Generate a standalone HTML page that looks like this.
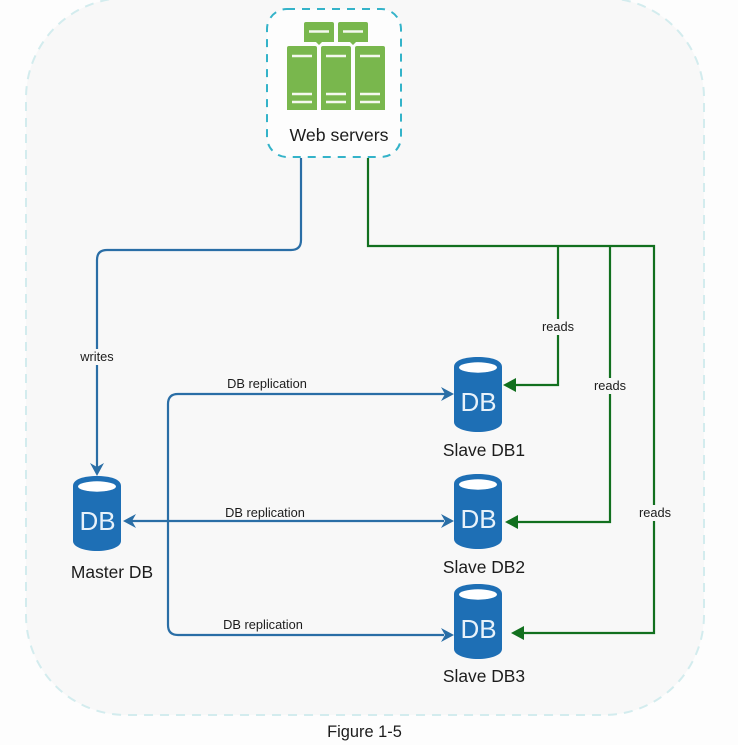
<!DOCTYPE html>
<html><head><meta charset="utf-8"><style>
html,body{margin:0;padding:0;background:#fdfdfd}
svg{display:block;filter:blur(0.35px)}
text{font-family:"Liberation Sans",sans-serif;fill:#1c1c1c}
</style></head><body>
<svg width="738" height="745" viewBox="0 0 738 745" xmlns="http://www.w3.org/2000/svg">
<defs>
<g id="db">
<path d="M0 10C0 3 11 0 24 0S48 3 48 10V65C48 71 37 75 24 75S0 71 0 65Z" fill="#1e6fb5"/>
<ellipse cx="24" cy="10.500" rx="19" ry="5.200" fill="#fff"/>
<text x="24.500" y="54" font-size="26" text-anchor="middle" style="fill:#e8f2fa">DB</text>
</g>
</defs>
<rect width="738" height="745" fill="#fdfdfd"/>
<rect x="26" y="-2" width="678" height="717" rx="100" fill="#f8f8f8" stroke="#d3ecee" stroke-width="2" stroke-dasharray="9 7"/>
<rect x="267" y="9" width="134" height="148" rx="20" fill="#fdfdfd" stroke="#34b3c9" stroke-width="2" stroke-dasharray="8 7"/>
<g fill="#79b74d">
<path d="M306 22H332Q334 22 334 24V42H322L319 45L316 42H304V24Q304 22 306 22Z"/>
<path d="M340 22H366Q368 22 368 24V42H356L353 45L350 42H338V24Q338 22 340 22Z"/>
<path d="M289 46H315Q317 46 317 48V110H287V48Q287 46 289 46Z"/>
<path d="M323 46H349Q351 46 351 48V110H321V48Q321 46 323 46Z"/>
<path d="M357 46H383Q385 46 385 48V110H355V48Q355 46 357 46Z"/>
</g>
<g stroke="#f4f8ee" stroke-width="2.500">
<path d="M309 31.500H329M343 31.500H363"/>
<path d="M292 56H312M326 56H346M360 56H380"/>
<path d="M292 94H312M326 94H346M360 94H380"/>
<path d="M292 102H312M326 102H346M360 102H380"/>
</g>
<text x="339" y="141" font-size="17.700" text-anchor="middle">Web servers</text>

<g fill="none" stroke="#2a6ea6" stroke-width="2.200">
<path d="M301 158V240Q301 250 291 250H107Q97 250 97 260V468"/>
<path d="M446 394H178Q168 394 168 404V625Q168 635 178 635H444"/>
<path d="M132 521H444"/>
</g>
<g fill="#2a6ea6">
<path d="M97 476L90 463L97 467L104 463Z"/>
<path d="M454 394L441 387L445 394L441 401Z"/>
<path d="M454 521L441 514L445 521L441 528Z"/>
<path d="M454 635L441 628L445 635L441 642Z"/>
<path d="M123 521L136 514L132 521L136 528Z"/>
</g>
<g fill="none" stroke="#12701f" stroke-width="2.200">
<path d="M368 158V246H654V633H520"/>
<path d="M558 246V385H512"/>
<path d="M610 246V522H514"/>
</g>
<g fill="#12701f">
<path d="M503 385L516 378V392Z"/>
<path d="M505 522L518 515V529Z"/>
<path d="M511 633L524 626V640Z"/>
</g>

<g font-size="12.800" text-anchor="middle">
<rect x="77" y="349" width="40" height="16" fill="#f8f8f8"/>
<text x="97" y="361">writes</text>
<rect x="539" y="319" width="38" height="16" fill="#f8f8f8"/>
<text x="558" y="331">reads</text>
<rect x="591" y="378" width="38" height="16" fill="#f8f8f8"/>
<text x="610" y="390">reads</text>
<rect x="636" y="505" width="38" height="16" fill="#f8f8f8"/>
<text x="655" y="517">reads</text>
<text x="267" y="388">DB replication</text>
<text x="265" y="517">DB replication</text>
<text x="263" y="629">DB replication</text>
</g>

<use href="#db" x="73" y="476"/>
<use href="#db" x="454" y="357"/>
<use href="#db" x="454" y="474"/>
<use href="#db" x="454" y="584"/>

<g font-size="17.400" text-anchor="middle">
<text x="112" y="578">Master DB</text>
<text x="484" y="456">Slave DB1</text>
<text x="484" y="573">Slave DB2</text>
<text x="484" y="682">Slave DB3</text>
</g>
<text x="364.500" y="737" font-size="16.400" text-anchor="middle">Figure 1-5</text>
</svg>
</body></html>
